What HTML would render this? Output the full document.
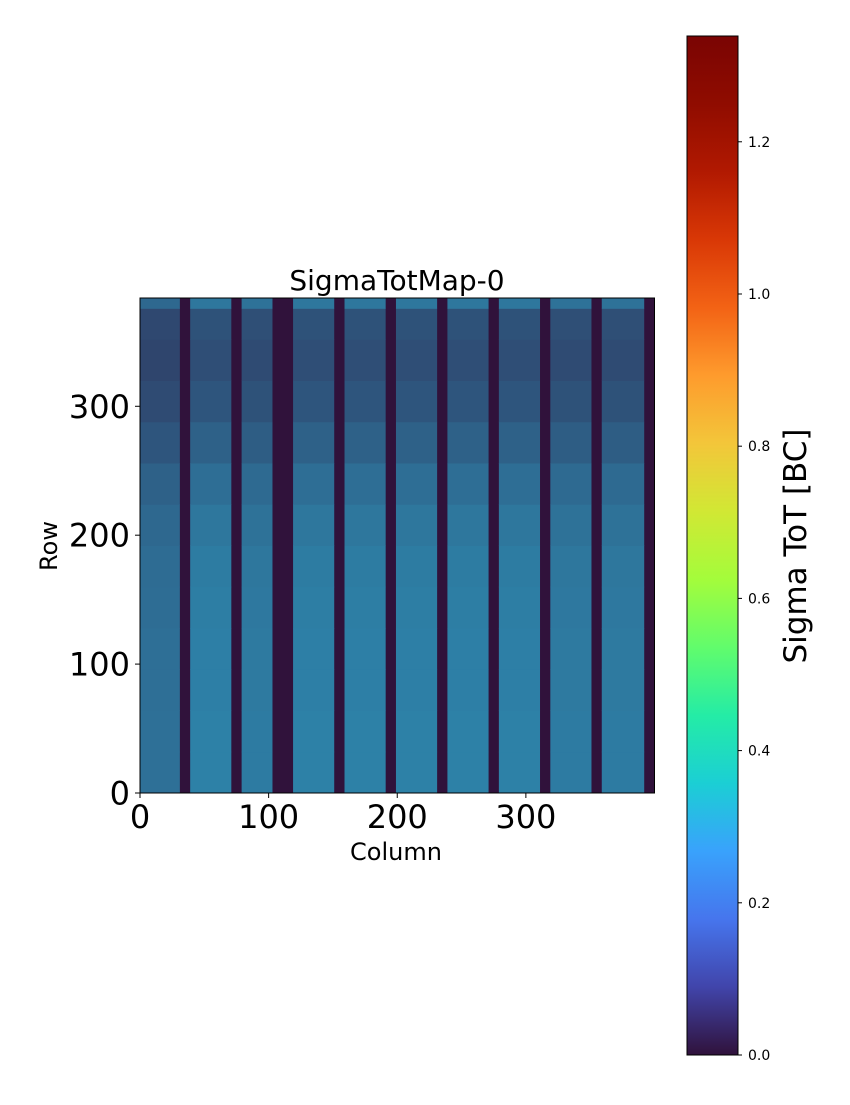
<!DOCTYPE html>
<html><head><meta charset="utf-8">
<style>
body{margin:0;background:#fff;}
svg text{font-family:"DejaVu Sans","Liberation Sans",sans-serif;fill:#000;}
</style></head>
<body>
<svg id="chart" width="850" height="1100" xmlns="http://www.w3.org/2000/svg">
<defs>
<linearGradient id="turbo" x1="0" y1="1" x2="0" y2="0">
<stop offset="0" stop-color="#30123b"/><stop offset="0.067" stop-color="#4145ab"/>
<stop offset="0.133" stop-color="#4675ed"/><stop offset="0.2" stop-color="#39a2fc"/>
<stop offset="0.267" stop-color="#1bcfd4"/><stop offset="0.333" stop-color="#24eca6"/>
<stop offset="0.4" stop-color="#61fc6c"/><stop offset="0.467" stop-color="#a4fc3b"/>
<stop offset="0.533" stop-color="#d1e834"/><stop offset="0.6" stop-color="#f3c63a"/>
<stop offset="0.667" stop-color="#fe9b2d"/><stop offset="0.733" stop-color="#f36315"/>
<stop offset="0.8" stop-color="#d93806"/><stop offset="0.867" stop-color="#b11901"/>
<stop offset="0.933" stop-color="#900c00"/><stop offset="1" stop-color="#7a0403"/>
</linearGradient>
</defs>
<g id="heat"></g>
<g id="axes"></g>
</svg>
<script>
// Data
const nCols = 400, nRows = 384;
const gapStart = [31, 71, 103, 151, 191, 231, 271, 311, 351, 392];
const gapEnd   = [39, 79, 119, 159, 199, 239, 279, 319, 359, 400];
// mean brightness (0..1) per row block, bottom to top; last block = top strip (rows 376-384)
const rowBlockStart = [0, 32, 64, 96, 128, 160, 192, 224, 256, 288, 320, 352, 376];
const rowBlockMean  = [0.66, 0.66, 0.65, 0.65, 0.64, 0.63, 0.6, 0.55, 0.47, 0.4, 0.36, 0.38, 0.6];
// brightness factor per bright band (left to right)
const bandFactor = [0.85, 1.0, 0.95, 1.0, 1.0, 1.0, 1.0, 1.0, 0.95, 0.95];
const xTicks = [0, 100, 200, 300];
const yTicks = [0, 100, 200, 300];
const cbTicks = [0.0, 0.2, 0.4, 0.6, 0.8, 1.0, 1.2];
const cbMax = 1.339;

const NS = "http://www.w3.org/2000/svg";
const X0 = 140, X1 = 654.5, Y0 = 793, Y1 = 298;
const xs = c => X0 + (X1 - X0) * c / nCols;
const ys = r => Y0 - (Y0 - Y1) * r / nRows;
const CBX = 687, CBW = 51, CBT = 36, CBB = 1055;
const cby = v => CBB - (CBB - CBT) * v / cbMax;

function mk(tag, attrs, parent){const e=document.createElementNS(NS,tag);for(const k in attrs)e.setAttribute(k,attrs[k]);parent.appendChild(e);return e;}
function mix(a,b,t){const p=h=>[1,3,5].map(i=>parseInt(h.substr(i,2),16));const A=p(a),B=p(b);return "rgb("+A.map((v,i)=>Math.round(v+(B[i]-v)*t)).join(",")+")";}
const dark="#30123b", bright="#2cbadf";

const heat=document.getElementById('heat');
const bg=mk('rect',{x:xs(0),y:ys(nRows),width:xs(nCols)-xs(0),height:ys(0)-ys(nRows),fill:dark},heat);


let starts=[0].concat(gapEnd.slice(0,-1)), ends=gapStart;
for(let b=0;b<starts.length;b++){
  for(let k=0;k<rowBlockMean.length;k++){
    const r0=rowBlockStart[k], r1=k+1<rowBlockStart.length?rowBlockStart[k+1]:nRows;
    const v=rowBlockMean[k]*bandFactor[b];
    const cell=mk('rect',{x:xs(starts[b]),y:ys(r1),width:xs(ends[b])-xs(starts[b]),height:ys(r0)-ys(r1)+0.5,fill:mix(dark,bright,v)},heat);
    
    
  }
}
const ax=document.getElementById('axes');
const frame=mk('rect',{x:X0,y:Y1,width:X1-X0,height:Y0-Y1,fill:'none',stroke:'#000','stroke-width':1},ax);


xTicks.forEach(t=>{
  mk('line',{x1:xs(t),x2:xs(t),y1:Y0,y2:Y0+5,stroke:'#000'},ax);
  const tx=mk('text',{x:xs(t),y:Y0+35,'font-size':32,'text-anchor':'middle'},ax);tx.textContent=t;
  
  
});
yTicks.forEach(t=>{
  mk('line',{x1:X0-5,x2:X0,y1:ys(t),y2:ys(t),stroke:'#000'},ax);
  const tx=mk('text',{x:X0-10,y:ys(t)+11.5,'font-size':32,'text-anchor':'end'},ax);tx.textContent=t;
  
  
});
const title=mk('text',{x:397,y:290,'font-size':28,'text-anchor':'middle'},ax);title.textContent='SigmaTotMap-0';


const xl=mk('text',{x:396,y:860,'font-size':24,'text-anchor':'middle'},ax);xl.textContent='Column';


const yl=mk('text',{x:0,y:0,'font-size':24,'text-anchor':'middle',transform:'translate(57,546) rotate(-90)'},ax);yl.textContent='Row';


const cb=mk('rect',{x:CBX,y:CBT,width:CBW,height:CBB-CBT,fill:'url(#turbo)',stroke:'#000','stroke-width':1},ax);


cbTicks.forEach(t=>{
  mk('line',{x1:CBX+CBW,x2:CBX+CBW+4,y1:cby(t),y2:cby(t),stroke:'#000'},ax);
  const tx=mk('text',{x:CBX+CBW+10,y:cby(t)+5,'font-size':14},ax);tx.textContent=t.toFixed(1);
  
  
});
const cl=mk('text',{x:0,y:0,'font-size':31,'text-anchor':'middle',transform:'translate(806,546) rotate(-90)'},ax);cl.textContent='Sigma ToT [BC]';


</script>
</body></html>
